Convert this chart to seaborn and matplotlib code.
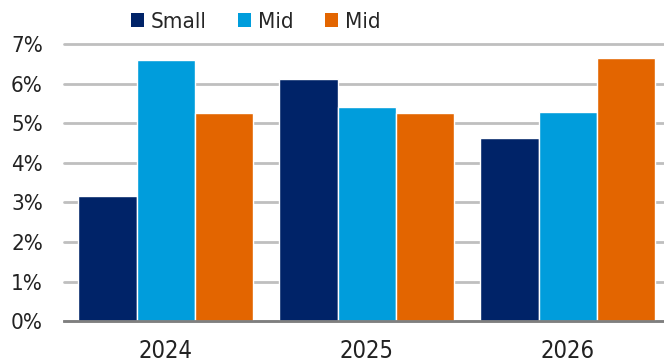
import matplotlib
matplotlib.use("Agg")
import matplotlib.pyplot as plt
import seaborn as sns
import pandas as pd
from matplotlib.patches import Patch
from matplotlib.ticker import FuncFormatter

years = ["2024", "2025", "2026"]
series_labels = ["Small", "Mid", "Mid"]
small = [3.17, 6.11, 4.62]
mid1 = [6.59, 5.40, 5.29]
mid2 = [5.25, 5.25, 6.64]
colors = ["#002368", "#009DDC", "#E36500"]

sns.set_theme(style="white")
plt.rcParams["font.family"] = ["DejaVu Sans"]
plt.rcParams["font.stretch"] = "condensed"

keys = ["s0", "s1", "s2"]
rows = []
for k, vals in zip(keys, [small, mid1, mid2]):
    for y, v in zip(years, vals):
        rows.append({"year": y, "series": k, "value": v})
df = pd.DataFrame(rows)

fig = plt.figure(figsize=(6.64, 3.62), dpi=100)
ax = fig.add_axes([0.096, 0.113, 0.904, 0.765])
sns.barplot(data=df, x="year", y="value", hue="series", hue_order=keys,
            palette=colors, width=0.87, edgecolor="white", linewidth=1.0,
            saturation=1, ax=ax, legend=False)

ax.set_ylim(0, 7)
ax.set_xlim(-0.507, 2.478)
ax.set_yticks(range(0, 8))
ax.yaxis.set_major_formatter(FuncFormatter(lambda v, p: f"{int(v)}%"))
ax.grid(axis="y", color="#BFBFBF", linewidth=2)
ax.set_axisbelow(True)
for s in ["left", "right", "top"]:
    ax.spines[s].set_visible(False)
ax.spines["bottom"].set_color("#7F7F7F")
ax.spines["bottom"].set_linewidth(2)
ax.set_xlabel("")
ax.set_ylabel("")
ax.tick_params(axis="y", length=0, pad=15, labelsize=16, colors="#222222")
ax.tick_params(axis="x", length=0, pad=13, labelsize=17, colors="#222222")
for line in ax.get_ygridlines():
    line.set_clip_on(False)

handles = [Patch(facecolor=c, edgecolor="none") for c in colors]
fig.legend(handles, series_labels, loc="center", bbox_to_anchor=(0.385, 0.94),
           ncol=3, frameon=False, fontsize=16, handlelength=0.6,
           handleheight=0.6, handletextpad=0.3, columnspacing=1.4)

fig.savefig("out.png", dpi=100)
